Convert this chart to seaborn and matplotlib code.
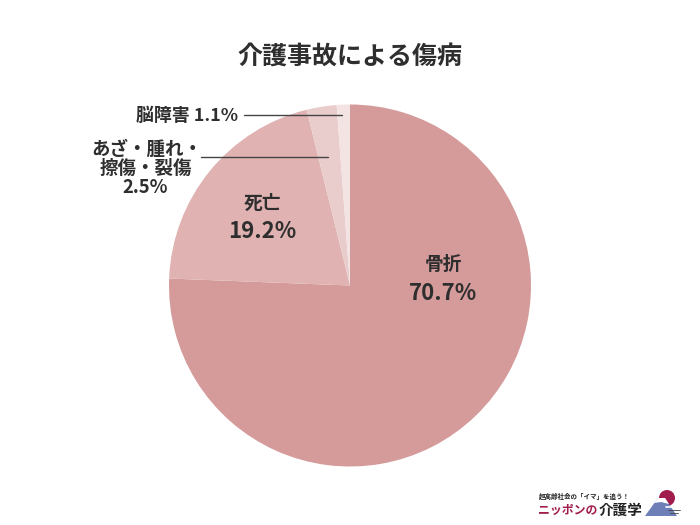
import matplotlib
matplotlib.use("Agg")
import matplotlib.pyplot as plt
import seaborn as sns
from matplotlib.patches import Circle, Polygon

categories = ["骨折", "死亡", "あざ・腫れ・擦傷・裂傷", "脳障害"]
values = [70.7, 19.2, 2.5, 1.1]
colors = ["#D59A9A", "#E0B2B2", "#E9CDCD", "#F3E3E3"]
title = "介護事故による傷病"
text_color = "#2E2E2E"

sns.set_theme(style="white")
plt.rcParams["font.family"] = ["Noto Sans CJK JP", "DejaVu Sans"]

W, H = 700, 525
fig = plt.figure(figsize=(W / 100, H / 100), dpi=100, facecolor="white")


def fx(x):
    return x / W


def fy(y):
    return 1 - y / H


def label(x, y, s, size):
    fig.text(fx(x), fy(y), s, ha="center", va="center", fontsize=size,
             fontweight="bold", color=text_color)


cx, cy, r = 350, 285.5, 181
ax = fig.add_axes([fx(cx - r), fy(cy + r), 2 * r / W, 2 * r / H])
ax.pie(values, colors=colors, startangle=90, counterclock=False, radius=1,
       wedgeprops={"linewidth": 0})
ax.set_xlim(-1, 1)
ax.set_ylim(-1, 1)

label(350, 57, title, 18)

label(443, 265, categories[0], 13.5)
label(443, 294, f"{values[0]}%", 16)
label(262, 203, categories[1], 13.5)
label(262, 232, f"{values[1]}%", 16)

label(187.5, 116, f"{categories[3]} {values[3]}%", 12.9)
label(146.5, 149, "あざ・腫れ・", 13.3)
label(146, 168.5, "擦傷・裂傷", 13.3)
label(145, 188, f"{values[2]}%", 13.3)

for x0, x1, y in [(244, 342, 115), (201, 328, 157)]:
    fig.add_artist(plt.Line2D([fx(x0), fx(x1)], [fy(y), fy(y)], color="#444444", linewidth=1))

# logo bottom right
fig.text(fx(584), fy(496.5), "超高齢社会の「イマ」を追う！", ha="center", va="center",
         fontsize=4.7, fontweight="bold", color="#222222")
fig.text(fx(568), fy(510.5), "ニッポンの", ha="center", va="center", fontsize=8.6,
         fontweight="bold", color="#A01C4C")
fig.text(fx(621), fy(510), "介護学", ha="center", va="center", fontsize=10.5,
         fontweight="bold", color="#222222")
logo = fig.add_axes([fx(642), fy(520), 40 / W, 32 / H])
logo.set_xlim(642, 682)
logo.set_ylim(520, 488)
logo.axis("off")
logo.add_patch(Circle((667, 498), 8, color="#A01C4C", lw=0))
logo.add_patch(Polygon([(645, 516), (658, 498), (665, 498), (677, 516)], color="#6E7FB8", lw=0))
logo.add_patch(Polygon([(654, 503), (658, 498), (665, 498), (669, 504), (661, 502)], color="white", lw=0))
logo.plot([666, 679], [507, 507], color="white", lw=1.2)
logo.plot([668, 680], [510, 510], color="#444444", lw=0.6)
logo.plot([670, 678], [513, 513], color="#444444", lw=0.6)

fig.savefig("out.png", dpi=100, facecolor="white")
